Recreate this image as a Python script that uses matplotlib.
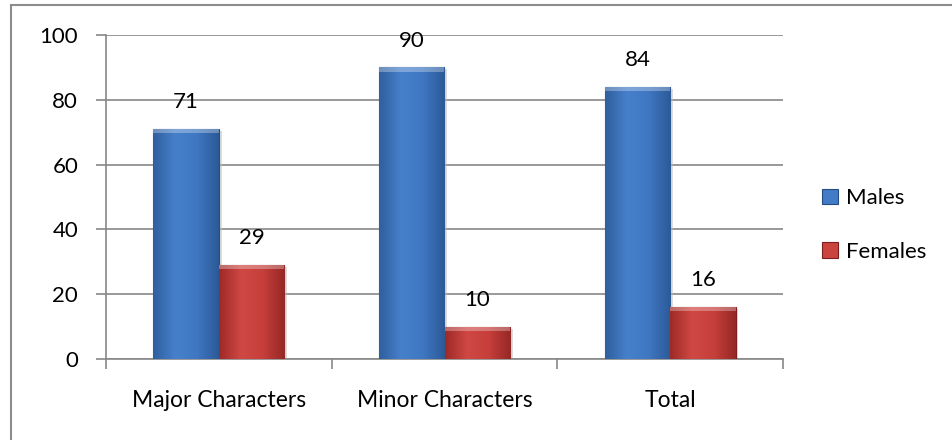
import numpy as np
import matplotlib.pyplot as plt
from matplotlib.patches import Rectangle
from matplotlib.colors import LinearSegmentedColormap

categories = ['Major Characters', 'Minor Characters', 'Total']
males = [71, 90, 84]
females = [29, 10, 16]
series = ['Males', 'Females']

plt.rcParams['font.family'] = ['Lato', 'DejaVu Sans']
FS = 16

fig = plt.figure(figsize=(9.53, 4.4), dpi=100)
ax = fig.add_axes([106 / 953, 1 - 359 / 440, (783 - 106) / 953, (359 - 35) / 440])

# chart border (runs off the right and bottom edges like the original)
fig.patches.append(Rectangle((11 / 953, -0.05), 1.2, 1 - 5 / 440 + 0.05,
                             transform=fig.transFigure, fill=False,
                             edgecolor='#8c8c8c', linewidth=1.5))

blue = LinearSegmentedColormap.from_list('b', ['#2f5f9e', '#4680cb', '#3f77c2', '#2c5a98'])
red = LinearSegmentedColormap.from_list('r', ['#9e2a27', '#d04844', '#c63f3b', '#962825'])

x = np.arange(len(categories))
w = 0.29
grad = np.linspace(0, 1, 64).reshape(1, -1)

for vals, cmap, off, edge, name in [(males, blue, -w / 2, '#254d84', 'Males'),
                                    (females, red, w / 2, '#7e1f1d', 'Females')]:
    bars = ax.bar(x + off, vals, w, color=cmap(0.5), edgecolor=edge,
                  linewidth=0.8, label=name, zorder=3)
    for b, v in zip(bars, vals):
        x0, y0 = b.get_x(), b.get_y()
        bw, bh = b.get_width(), b.get_height()
        # shadow
        ax.add_patch(Rectangle((x0 + 0.012, y0 - 0.6), bw, bh, color='#bbbbbb',
                               alpha=0.5, zorder=2, linewidth=0))
        im = ax.imshow(grad, cmap=cmap, aspect='auto', extent=(x0, x0 + bw, y0, y0 + bh),
                       zorder=3.5)
        im.set_clip_path(b)
        # bevel on top
        ax.add_patch(Rectangle((x0, y0 + bh - 1.3), bw, 1.3, color='white',
                               alpha=0.3, zorder=4, linewidth=0))
        ax.annotate(str(v), (x0 + bw / 2, y0 + bh), xytext=(0, 12),
                    textcoords='offset points', ha='center', va='bottom',
                    fontsize=FS, color='black')

ax.set_xlim(-0.5, 2.5)
ax.set_ylim(0, 100)
ax.set_yticks(range(0, 101, 20))
ax.yaxis.grid(True, color='#878787', linewidth=1.2, zorder=0)
ax.set_axisbelow(True)

ax.set_xticks([-0.5, 0.5, 1.5, 2.5])
ax.set_xticklabels([])
ax.set_xticks(x, minor=True)
ax.set_xticklabels(categories, minor=True, fontsize=FS + 0.5)
ax.tick_params(axis='x', which='major', length=7, color='#878787', width=1.2)
ax.tick_params(axis='x', which='minor', length=0, pad=22)
ax.tick_params(axis='y', length=7, color='#878787', width=1.2, labelsize=FS, pad=13)

for s in ['top', 'right']:
    ax.spines[s].set_visible(False)
for s in ['left', 'bottom']:
    ax.spines[s].set_color('#878787')
    ax.spines[s].set_linewidth(1.2)

ax.legend(loc='center left', bbox_to_anchor=(1.028, 0.414), frameon=False,
          fontsize=FS, handlelength=0.7, handleheight=0.7, handletextpad=0.4,
          labelspacing=1.5)

fig.savefig('out.png', dpi=100)
